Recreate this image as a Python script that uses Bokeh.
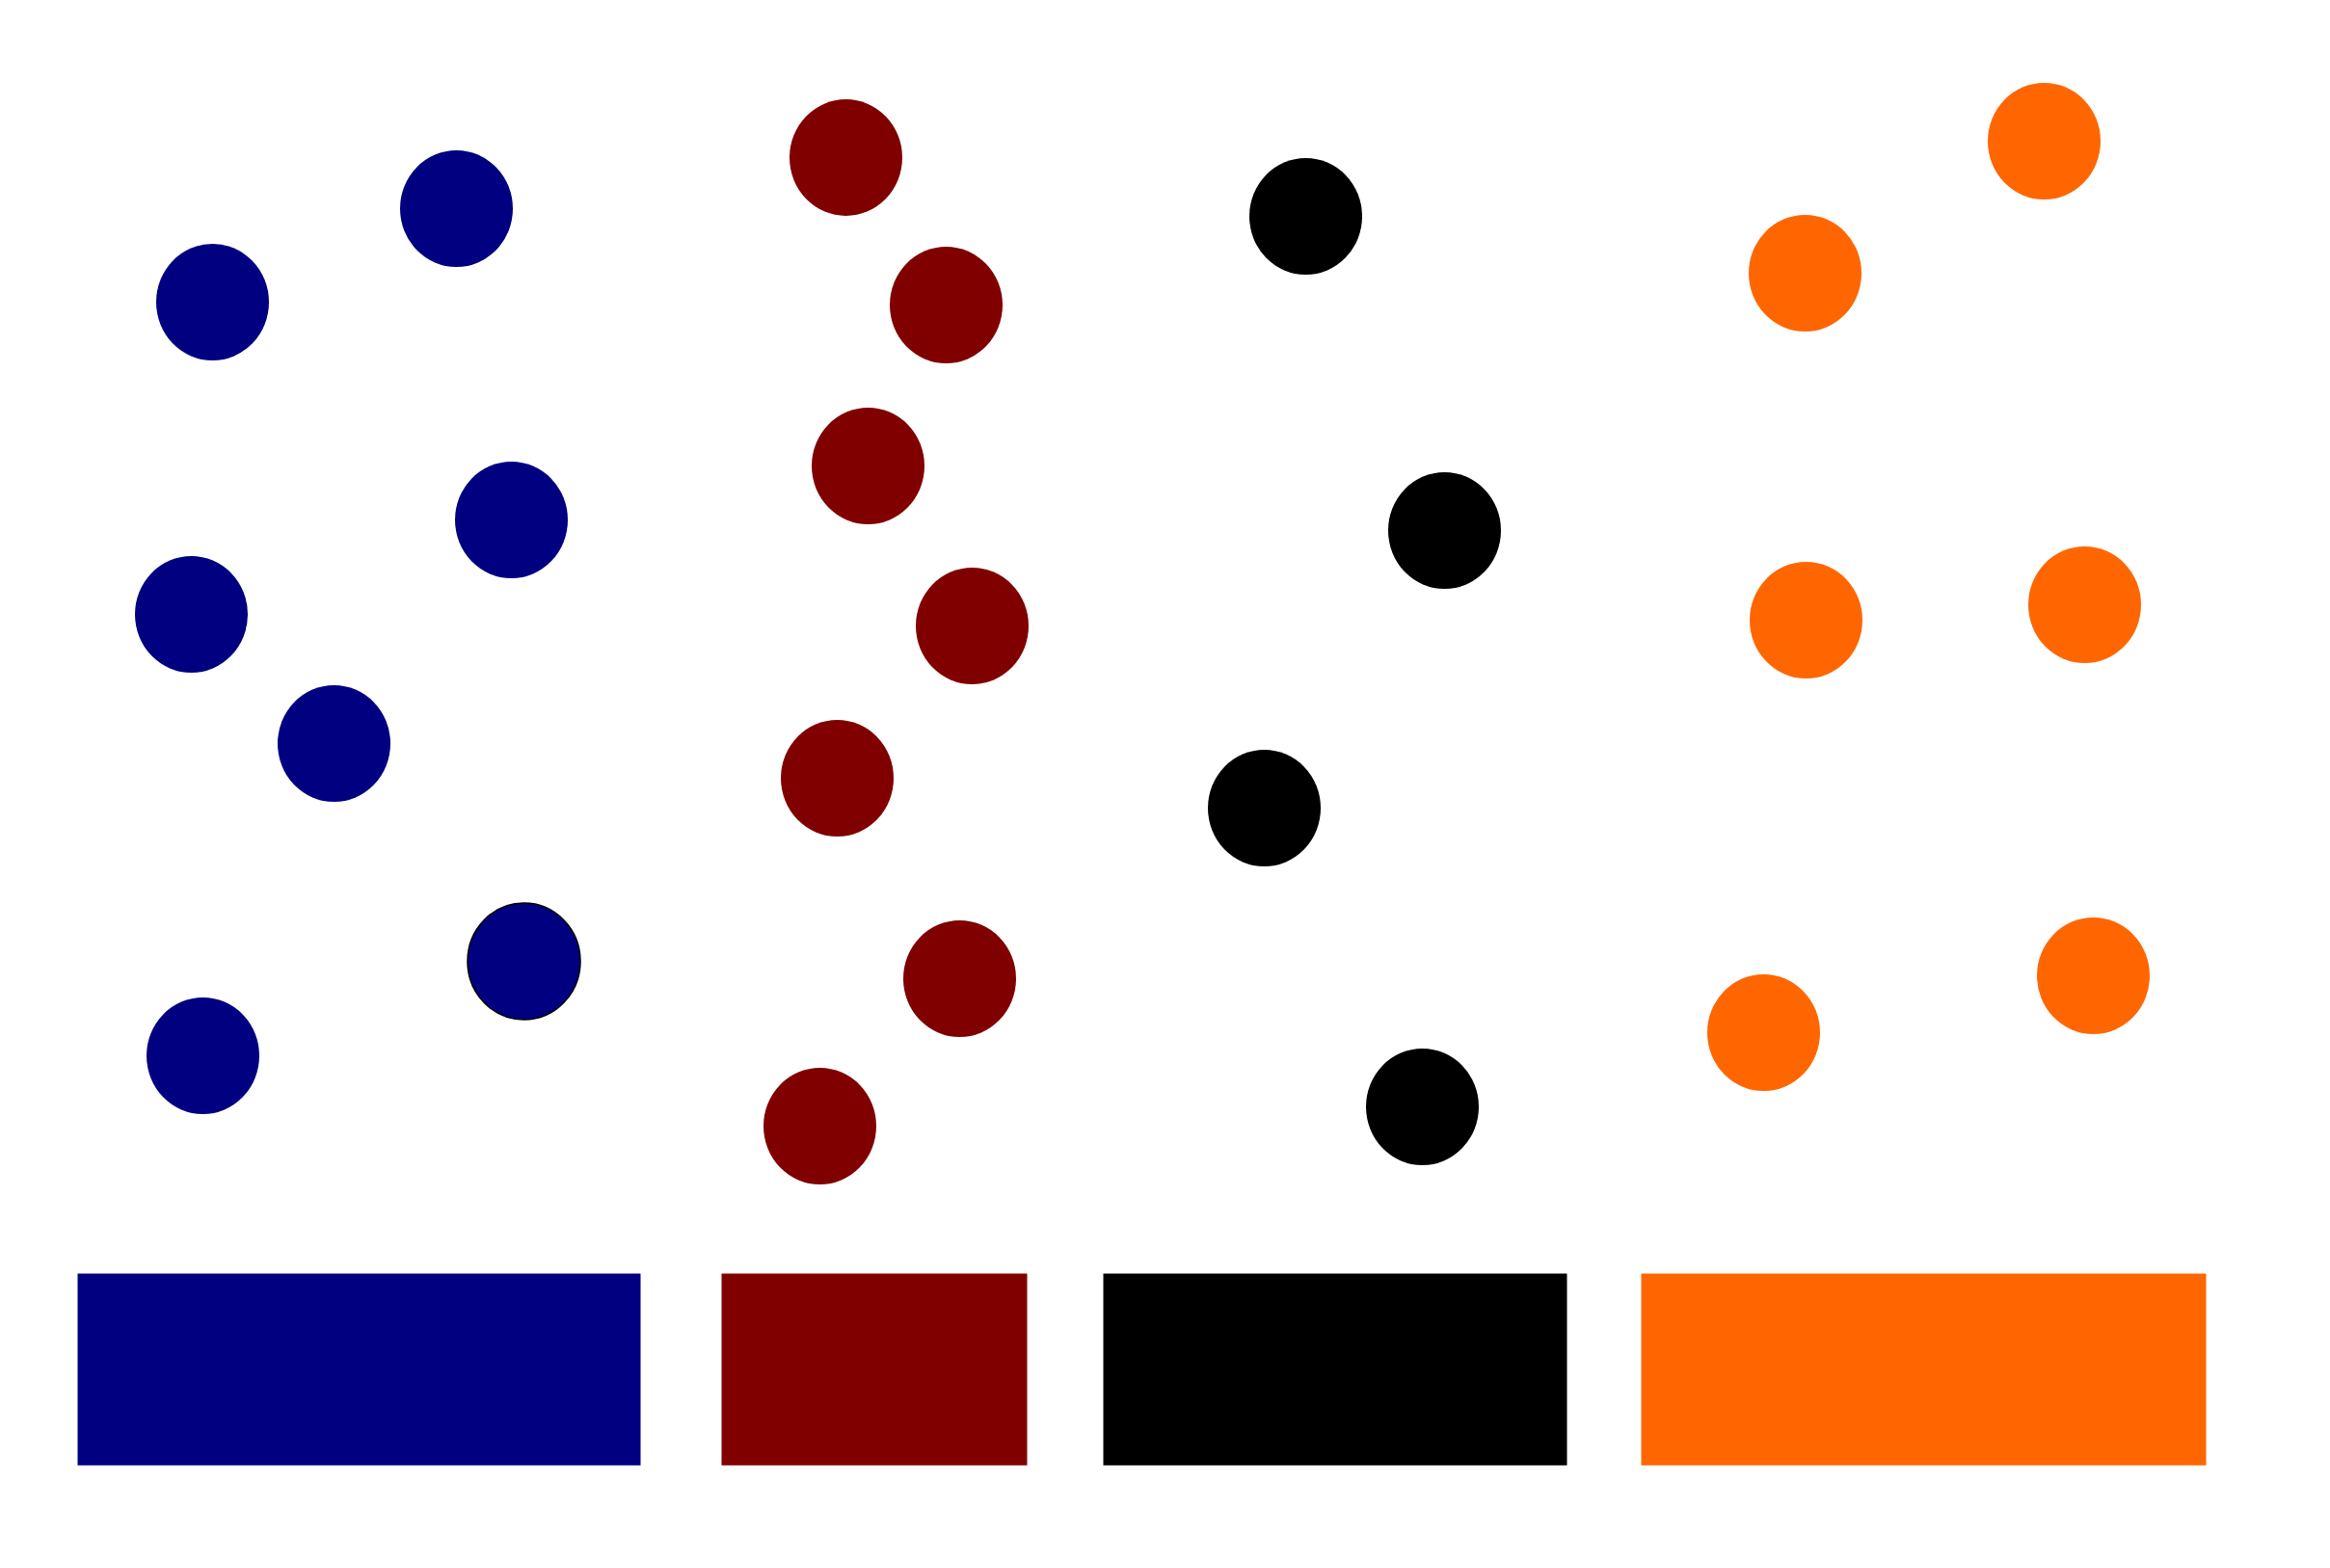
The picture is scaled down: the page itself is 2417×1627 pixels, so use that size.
from bokeh.plotting import figure
from bokeh.models import ColumnDataSource, Range1d
from bokeh.embed import file_html
from bokeh.resources import INLINE

# Parties and colours
parties = ["Blue", "Maroon", "Black", "Orange"]
party_colors = ["#000080", "#800000", "#000000", "#FF6600"]

# Seat centres (pixel coordinates of the diagram, y downwards)
blue_x = [220, 473, 530, 198, 346, 543, 210]
blue_y = [313, 216, 539, 637, 771, 997, 1095]
maroon_x = [877, 981, 900, 1008, 868, 995, 850]
maroon_y = [163, 316, 483, 649, 807, 1015, 1168]
black_x = [1354, 1498, 1311, 1475]
black_y = [224, 550, 838, 1148]
orange_x = [2120, 1872, 1873, 2162, 1829, 2171]
orange_y = [146, 283, 643, 627, 1071, 1012]

# Legend bars (left, right)
bar_left = [80, 748, 1144, 1702]
bar_right = [664, 1065, 1625, 2288]
bar_top = [1321, 1321, 1321, 1321]
bar_bottom = [1520, 1520, 1520, 1520]

W, H = 2417, 1627
p = figure(width=W, height=H, output_backend="svg", toolbar_location=None,
           x_range=Range1d(0, W), y_range=Range1d(H, 0),
           min_border=0, min_border_left=0, min_border_right=0,
           min_border_top=0, min_border_bottom=0)
p.axis.visible = False
p.xgrid.visible = False
p.ygrid.visible = False
p.outline_line_color = None
p.background_fill_color = "white"
p.border_fill_color = "white"

groups = [(blue_x, blue_y), (maroon_x, maroon_y), (black_x, black_y), (orange_x, orange_y)]
for (xs, ys), col in zip(groups, party_colors):
    src = ColumnDataSource(dict(x=xs, y=ys))
    p.ellipse(x="x", y="y", width=117, height=121, source=src,
              fill_color=col, line_color=None)

# one seat drawn with a thin dark outline
p.ellipse(x=[blue_x[5]], y=[blue_y[5]], width=117, height=121,
          fill_color=None, line_color="#000000", line_width=1.5)

bars = ColumnDataSource(dict(left=bar_left, right=bar_right, top=bar_top,
                             bottom=bar_bottom, color=party_colors))
p.quad(left="left", right="right", top="top", bottom="bottom", source=bars,
       fill_color="color", line_color=None)

html = file_html(p, INLINE)
html = html.replace("<head>", "<head><style>html,body{margin:0;padding:0;}</style>", 1)
open("out.html", "w").write(html)
